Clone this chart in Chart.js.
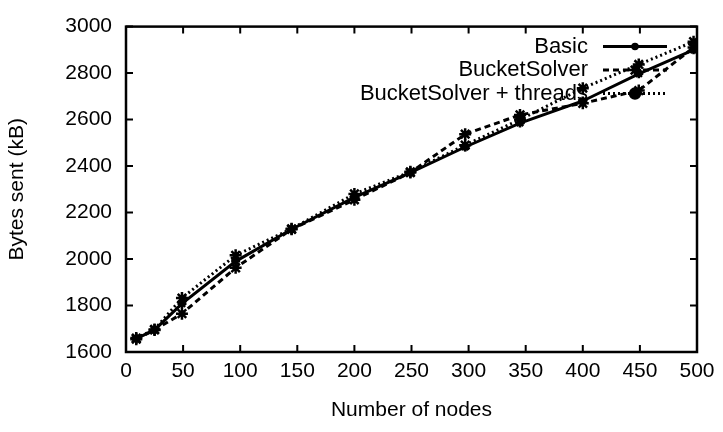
<!DOCTYPE html>
<html><head><meta charset="utf-8">
<script src="https://cdn.jsdelivr.net/npm/chart.js@4/dist/chart.umd.min.js"></script>
<style>html,body{margin:0;padding:0;background:#fff}</style>
</head><body>
<canvas id="c" width="723" height="432"></canvas>
<script>
const nodes   = [9, 25, 49, 96, 145, 200, 249, 297, 345, 400, 449, 497];
const basic   = [1658, 1695, 1808, 1990, 2128, 2265, 2372, 2482, 2585, 2680, 2797, 2900];
const bucket  = [1655, 1695, 1765, 1962, 2128, 2255, 2372, 2537, 2620, 2670, 2725, 2910];
const threads = [1660, 1697, 1832, 2016, 2130, 2280, 2375, 2490, 2600, 2735, 2837, 2935];
const seriesNames = ['Basic', 'BucketSolver', 'BucketSolver + threads'];
const xTitle = 'Number of nodes';
const yTitle = 'Bytes sent (kB)';

const FONT = '"Liberation Sans", Arial, Helvetica, sans-serif';
const pts = arr => nodes.map((x, i) => ({x: x, y: arr[i]}));

const boxAndTicks = {
  id: 'boxAndTicks',
  afterDatasetsDraw(chart) {
    const {ctx, chartArea: a, scales} = chart;
    ctx.save();
    ctx.strokeStyle = '#000';
    ctx.lineWidth = 2;
    const L = 7;
    scales.x.ticks.forEach(t => {
      const px = scales.x.getPixelForValue(t.value);
      ctx.beginPath();
      ctx.moveTo(px, a.bottom); ctx.lineTo(px, a.bottom - L);
      ctx.moveTo(px, a.top); ctx.lineTo(px, a.top + L);
      ctx.stroke();
    });
    scales.y.ticks.forEach(t => {
      const py = scales.y.getPixelForValue(t.value);
      ctx.beginPath();
      ctx.moveTo(a.left, py); ctx.lineTo(a.left + L, py);
      ctx.moveTo(a.right, py); ctx.lineTo(a.right - L, py);
      ctx.stroke();
    });
    ctx.lineWidth = 2.5;
    ctx.strokeRect(a.left, a.top, a.right - a.left, a.bottom - a.top);
    // legend
    ctx.font = '22px ' + FONT;
    ctx.fillStyle = '#000';
    ctx.textAlign = 'right';
    ctx.textBaseline = 'middle';
    chart.data.datasets.forEach((ds, i) => {
      const y = a.top + 20 + i * 23.5;
      ctx.fillText(ds.label, a.right - 109, y);
      ctx.save();
      ctx.setLineDash(ds.borderDash || []);
      ctx.lineWidth = ds.borderWidth;
      ctx.beginPath();
      ctx.moveTo(a.right - 94, y); ctx.lineTo(a.right - 30, y);
      ctx.stroke();
      ctx.restore();
      Chart.helpers.drawPoint(ctx, {pointStyle: ds.legendPoint, radius: ds.legendRadius, borderWidth: 2.5, rotation: 0}, a.right - 62, y);
    });
    ctx.restore();
  }
};

new Chart(document.getElementById('c'), {
  type: 'line',
  data: {
    datasets: [
      {label: seriesNames[0], data: pts(basic), borderColor: '#000', backgroundColor: '#000', borderWidth: 3,
       pointStyle: 'star', pointRadius: 4.5, pointBorderWidth: 2.5, legendPoint: 'circle', legendRadius: 2.5},
      {label: seriesNames[1], data: pts(bucket), borderColor: '#000', backgroundColor: '#000', borderWidth: 3, borderDash: [6, 4],
       pointStyle: 'star', pointRadius: 6, pointBorderWidth: 2.5, legendPoint: 'star', legendRadius: 6},
      {label: seriesNames[2], data: pts(threads), borderColor: '#000', backgroundColor: '#000', borderWidth: 3, borderDash: [2, 3],
       pointStyle: 'star', pointRadius: 6, pointBorderWidth: 2.5, legendPoint: 'circle', legendRadius: 5}
    ]
  },
  options: {
    responsive: false,
    animation: false,
    layout: {padding: {top: 10, right: 26, left: 0, bottom: 0}},
    plugins: {legend: {display: false}, tooltip: {enabled: false}},
    scales: {
      x: {
        type: 'linear', min: 0, max: 500,
        ticks: {stepSize: 50, padding: 7, color: '#000', font: {family: FONT, size: 21}, maxRotation: 0, autoSkip: false,
                callback: v => String(v)},
        grid: {display: false, drawTicks: false},
        border: {display: false},
        title: {display: true, text: xTitle, color: '#000', font: {family: FONT, size: 21}, padding: {top: 0, bottom: 9}},
        afterFit: s => { s.height = 80; }
      },
      y: {
        type: 'linear', min: 1600, max: 3000,
        ticks: {stepSize: 200, padding: 14, color: '#000', font: {family: FONT, size: 21}, callback: v => String(v)},
        grid: {display: false, drawTicks: false},
        border: {display: false},
        title: {display: true, text: yTitle, color: '#000', font: {family: FONT, size: 21}, padding: {top: 5, bottom: 0}},
        afterFit: s => { s.width = 126; }
      }
    }
  },
  plugins: [boxAndTicks]
});
</script>
</body></html>
